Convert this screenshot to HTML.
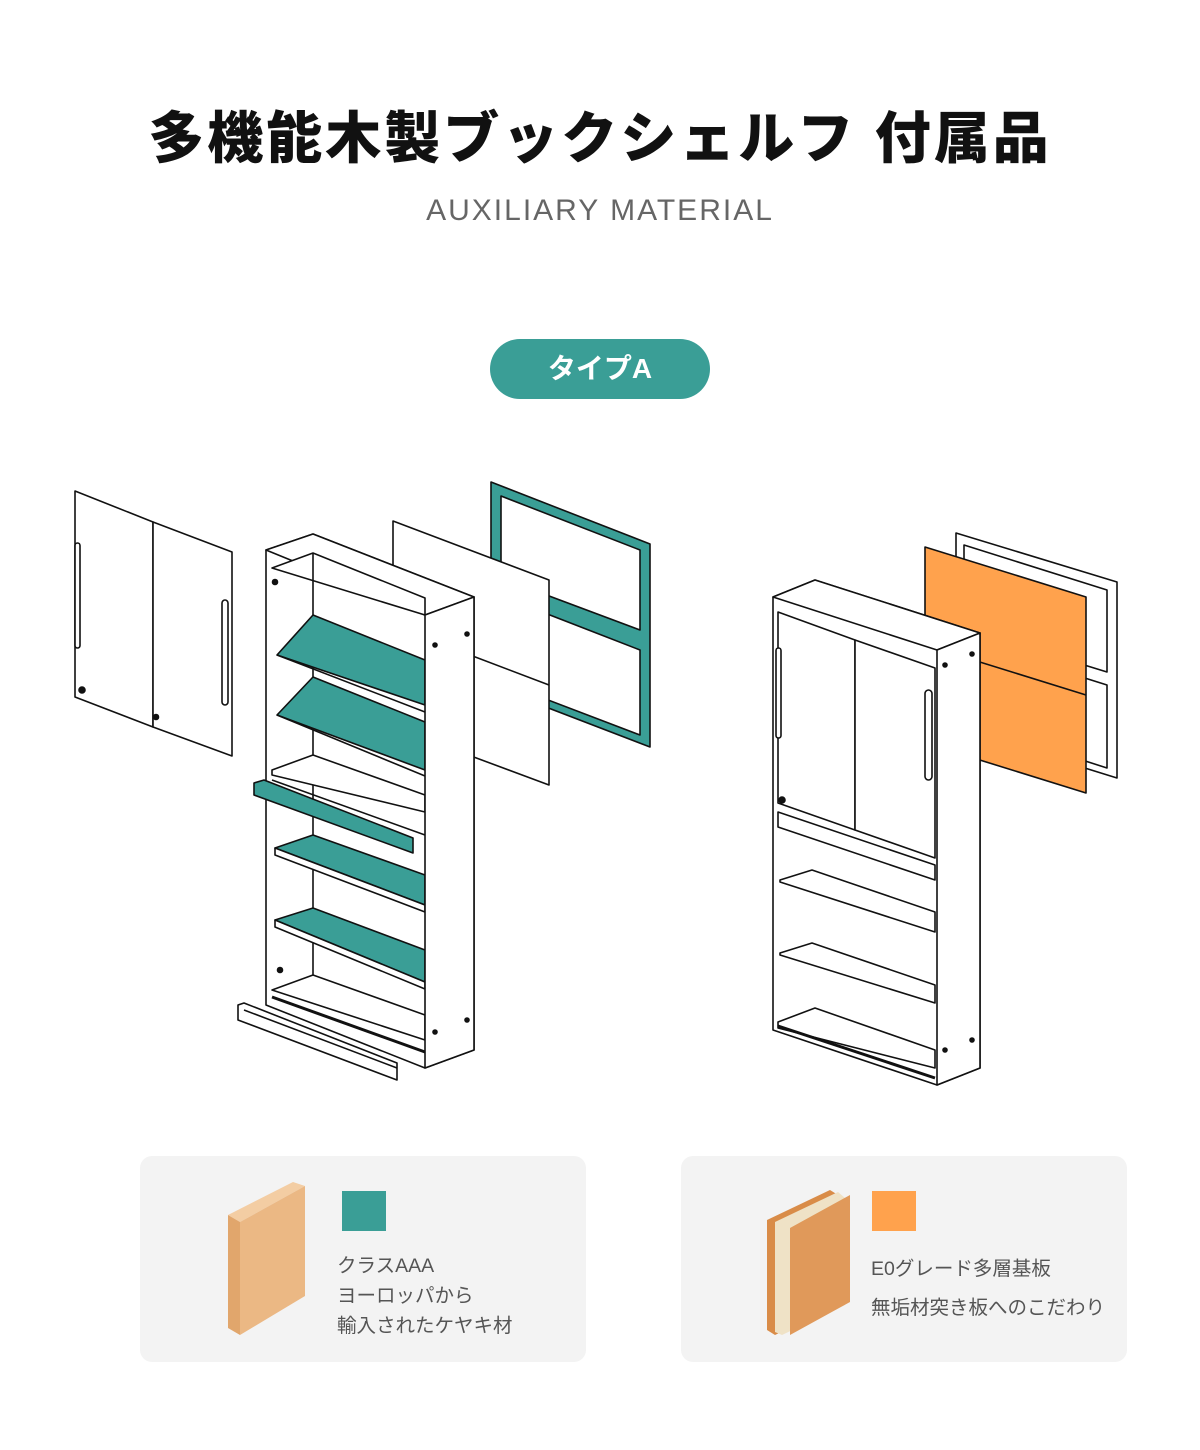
<!DOCTYPE html>
<html><head><meta charset="utf-8">
<style>
body{margin:0;background:#fff;}
.wrap{position:relative;width:1200px;height:1450px;overflow:hidden;font-family:"Liberation Sans","Noto Sans CJK JP",sans-serif;}
.t{position:absolute;left:0;width:1200px;text-align:center;}
</style></head><body><div class="wrap">
<div class="t" style="top:94px;font-size:56px;font-weight:900;color:#111;letter-spacing:3px;">多機能木製ブックシェルフ 付属品</div>
<div class="t" style="top:194px;font-size:30px;color:#666;letter-spacing:2px;">AUXILIARY MATERIAL</div>
<div style="position:absolute;left:490px;top:339px;width:220px;height:60px;border-radius:30px;background:#3a9e96;color:#fff;font-size:28px;font-weight:bold;text-align:center;line-height:60px;">タイプA</div>

<svg style="position:absolute;left:0;top:0" width="1200" height="1450" viewBox="0 0 1200 1450">
<g stroke="#111" stroke-width="1.6" stroke-linejoin="round" fill="#fff">
<polygon points="491,482 650,544 650,747 491,686" fill="#3a9e96"/>
<polygon points="501,496 640,550 640,630 501,578" fill="#fff"/>
<polygon points="501,596 640,650 640,735 501,682" fill="#fff"/>
<polygon points="393,521 549,580 549,785 393,727"/>
<line x1="470" y1="655" x2="549" y2="685"/>
<polygon points="75,491 153,522 153,727 75,697"/>
<polygon points="153,522 232,552 232,756 153,727"/>
<rect x="75" y="543" width="5" height="105" rx="2.5" fill="#fff"/>
<rect x="222" y="600" width="6" height="105" rx="3" fill="#fff"/>
<circle cx="82" cy="690" r="3" fill="#111"/><circle cx="156" cy="717" r="2.5" fill="#111"/>
<polygon points="266,550 313,534 474,597 474,1050 425,1068 266,1005"/>
<polygon points="266,550 313,534 474,597 425,615"/>
<polygon points="272,568 313,553 425,598 425,615" fill="#fff"/>
<line x1="313" y1="553" x2="313" y2="1000"/>
<polygon points="277,655 313,615 425,660 425,705" fill="#3a9e96"/>
<line x1="277" y1="655" x2="425" y2="712"/>
<polygon points="277,715 313,677 425,722 425,770" fill="#3a9e96"/>
<line x1="277" y1="715" x2="425" y2="776"/>
<polygon points="272,770 313,755 425,795 425,812 272,775"/>
<line x1="272" y1="780" x2="425" y2="835"/>
<polygon points="275,848 313,835 425,875 425,905" fill="#3a9e96"/>
<polygon points="275,848 425,905 425,912 275,855"/>
<polygon points="275,920 313,908 425,950 425,982" fill="#3a9e96"/>
<polygon points="275,920 425,982 425,989 275,927"/>
<polygon points="272,990 313,975 425,1015 425,1040 272,990"/>
<line x1="272" y1="997" x2="425" y2="1052" stroke-width="3"/>
<polygon points="254,783 264,780 413,838 413,853 254,795" fill="#3a9e96"/>
<polygon points="425,615 474,597 474,1050 425,1068"/>
<circle cx="467" cy="634" r="2" fill="#111"/><circle cx="435" cy="645" r="2" fill="#111"/>
<circle cx="467" cy="1020" r="2" fill="#111"/><circle cx="435" cy="1032" r="2" fill="#111"/>
<circle cx="275" cy="582" r="2.5" fill="#111"/><circle cx="280" cy="970" r="2.5" fill="#111"/>
<polygon points="238,1005 244,1003 397,1063 397,1080 238,1020"/>
<line x1="244" y1="1010" x2="397" y2="1068"/>

<polygon points="956,533 1117,582 1117,778 956,728"/>
<polygon points="964,545 1107,590 1107,672 964,628"/>
<polygon points="964,640 1107,685 1107,768 964,722"/>
<polygon points="925,547 1086,597 1086,793 925,743" fill="#ffa24d"/>
<line x1="925" y1="645" x2="1086" y2="695"/>
<polygon points="773,597 815,580 980,633 980,1068 937,1085 773,1030"/>
<polygon points="773,597 815,580 980,633 937,650"/>
<polygon points="778,612 855,640 855,830 778,803"/>
<polygon points="855,640 935,668 935,858 855,830"/>
<rect x="776" y="648" width="5" height="90" rx="2.5"/>
<rect x="925" y="690" width="7" height="90" rx="3.5"/>
<polygon points="778,812 935,865 935,880 778,827"/>
<polygon points="780,880 812,870 935,912 935,932 780,882"/>
<polygon points="780,953 812,943 935,985 935,1003 780,955"/>
<polygon points="778,1022 815,1008 935,1050 935,1068 778,1028"/>
<line x1="778" y1="1026" x2="935" y2="1078" stroke-width="3"/>
<polygon points="937,650 980,633 980,1068 937,1085"/>
<circle cx="972" cy="654" r="2" fill="#111"/><circle cx="945" cy="665" r="2" fill="#111"/>
<circle cx="972" cy="1040" r="2" fill="#111"/><circle cx="945" cy="1050" r="2" fill="#111"/>
<circle cx="782" cy="800" r="3" fill="#111"/>
</g>

<rect x="140" y="1156" width="446" height="206" rx="12" fill="#f3f3f3"/>
<rect x="681" y="1156" width="446" height="206" rx="12" fill="#f3f3f3"/>
<polygon points="228,1215 293,1182 305,1186 240,1222" fill="#f3cda3"/>
<polygon points="228,1215 240,1222 240,1335 228,1328" fill="#e1a66c"/>
<polygon points="240,1222 305,1186 305,1296 240,1335" fill="#ebb884"/>
<polygon points="767,1220 830,1190 838,1195 838,1305 775,1335 767,1330" fill="#d98c48"/>
<polygon points="775,1222 838,1192 845,1198 845,1305 782,1335 775,1332" fill="#efe2c6"/>
<polygon points="790,1228 850,1195 850,1302 790,1335" fill="#e0995a"/>
<rect x="342" y="1191" width="44" height="40" fill="#3a9e96"/>
<rect x="872" y="1191" width="44" height="40" fill="#ffa24d"/>
<g font-family="Liberation Sans, Noto Sans CJK JP, sans-serif" font-size="19.5" fill="#555">
<text x="337" y="1272">クラスAAA</text>
<text x="337" y="1302">ヨーロッパから</text>
<text x="337" y="1332">輸入されたケヤキ材</text>
<text x="871" y="1275">E0グレード多層基板</text>
<text x="871" y="1314">無垢材突き板へのこだわり</text>
</g>
</svg>
</div></body></html>
